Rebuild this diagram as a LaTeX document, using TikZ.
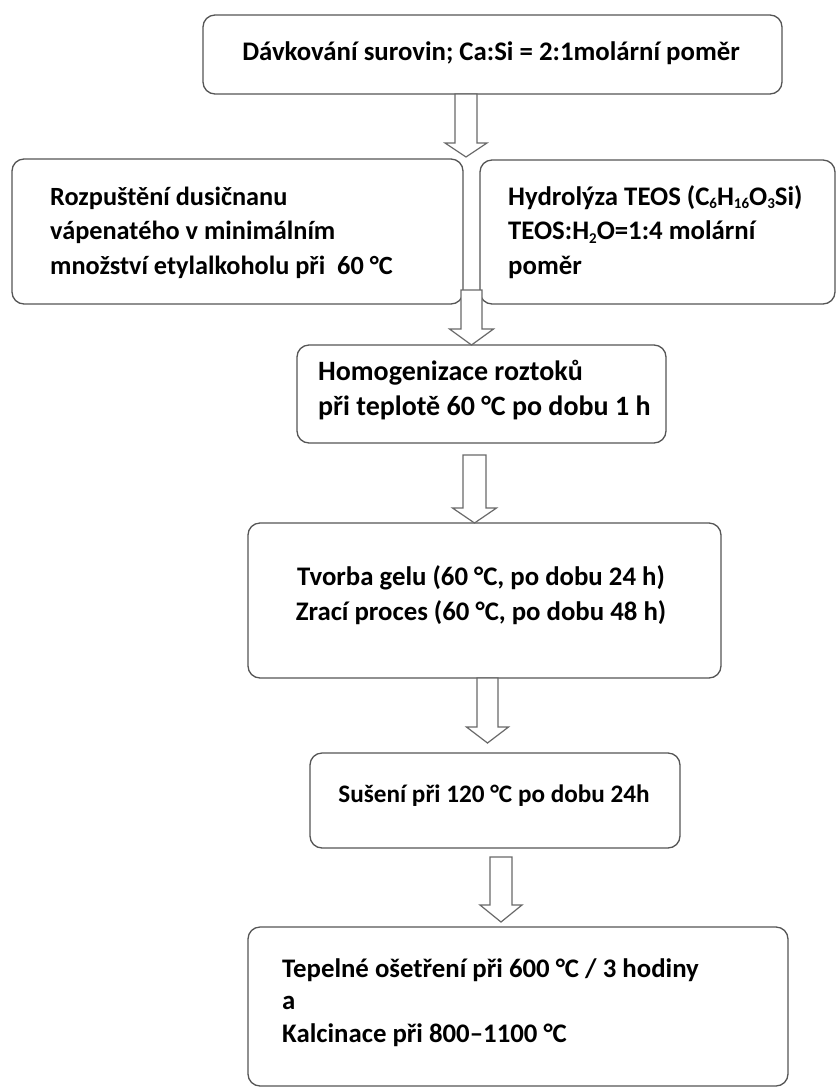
\documentclass[tikz,border=0pt]{standalone}
\usepackage{fontspec}
\setmainfont{Carlito}
\usetikzlibrary{calc}
\definecolor{boxc}{RGB}{85,85,85}
\definecolor{arrc}{RGB}{105,105,105}
\newcommand\sbs[1]{\raisebox{-0.3ex}{\fontsize{15}{15}\selectfont #1}}
% block arrow: #1 start, #2 tip, #3 half shaft width, #4 half head width, #5 head length
\newcommand\barrow[5]{%
  \draw[arr] let \p1=#1, \p2=#2 in
    (\x1-#3pt,\y1) -- (\x1+#3pt,\y1) -- (\x1+#3pt,\y2+#5pt) -- (\x1+#4pt,\y2+#5pt)
    -- (\x1,\y2) -- (\x1-#4pt,\y2+#5pt) -- (\x1-#3pt,\y2+#5pt) -- cycle;}
\begin{document}
\begin{tikzpicture}[x=1pt,y=-1pt,
  box/.style={draw=boxc, line width=1.3pt, rounded corners=12pt, inner sep=0pt, outer sep=0pt, anchor=north west, fill=white},
  txt/.style={inner sep=0pt, font=\fontsize{26.8}{30}\selectfont\bfseries},
  txtl/.style={txt, font=\fontsize{26.3}{30}\selectfont\bfseries},
  txth/.style={txt, font=\fontsize{28}{30}\selectfont\bfseries},
  txts/.style={txt, font=\fontsize{25.2}{30}\selectfont\bfseries},
  arr/.style={draw=arrc, fill=white, line width=1.2pt, line join=miter}]
\useasboundingbox[fill=white] (0,0) rectangle (837,1088);
% boxes
\node[box, minimum width=579pt, minimum height=79pt]  (top)    at (203,15)  {};
\node[box, minimum width=451pt, minimum height=145pt] (left)   at (12,159)  {};
\node[box, minimum width=355pt, minimum height=144pt] (right)  at (480,160) {};
\node[box, minimum width=369pt, minimum height=98pt]  (homo)   at (297,345) {};
\node[box, minimum width=473pt, minimum height=155pt] (tvorba) at (248,523) {};
\node[box, minimum width=370pt, minimum height=95pt]  (suseni) at (310,753) {};
\node[box, minimum width=540pt, minimum height=159pt] (final)  at (248,927) {};
% connectors
\coordinate (split) at (466,157);
\coordinate (join)  at (471.5,290);
\barrow{(466,0 |- top.south)}{(split)}{11}{21}{14}
\barrow{(join)}{(471.5,0 |- homo.north)}{10.5}{22}{16}
\barrow{($(474.5,0 |- homo.south)+(0,12)$)}{(474.5,0 |- tvorba.north)}{11.5}{22}{15}
\barrow{(487.5,0 |- tvorba.south)}{($(487.5,0 |- suseni.north)+(0,-10)$)}{10.5}{21}{16}
\barrow{($(501,0 |- suseni.south)+(0,9)$)}{($(501,0 |- final.north)+(0,-5)$)}{11}{21}{17}
% texts
\node[txt, anchor=base] (ttop) at (491,60) {Dávkování surovin; Ca:Si = 2:1molární poměr};
\node[txtl, anchor=base west] (tl1) at (50,205) {Rozpuštění dusičnanu};
\node[txtl, anchor=base west] (tl2) at (50,239.5) {vápenatého v minimálním};
\node[txtl, anchor=base west] (tl3) at (50,274) {množství etylalkoholu při\ \ 60 °C};
\node[txt, anchor=base west] (tr1) at (508,205) {Hydrolýza TEOS (C\sbs{6}H\sbs{16}O\sbs{3}Si)};
\node[txt, anchor=base west] (tr2) at (508,239.5) {TEOS:H\sbs{2}O=1:4 molární};
\node[txt, anchor=base west] (tr3) at (508,274) {poměr};
\node[txth, anchor=base west] (th1) at (318,380) {Homogenizace roztoků};
\node[txth, anchor=base west] (th2) at (318,415) {při teplotě 60 °C po dobu 1 h};
\node[txt, anchor=base] (tt1) at (481,585) {Tvorba gelu (60 °C, po dobu 24 h)};
\node[txt, anchor=base] (tt2) at (481,620) {Zrací proces (60 °C, po dobu 48 h)};
\node[txts, anchor=base] (ts1) at (494,802) {Sušení při 120 °C po dobu 24h};
\node[txt, anchor=base west] (tf1) at (282,977) {Tepelné ošetření při 600 °C / 3 hodiny};
\node[txt, anchor=base west] (tf2) at (282,1009) {a};
\node[txt, anchor=base west] (tf3) at (282,1042) {Kalcinace při 800–1100 °C};
\end{tikzpicture}
\end{document}
